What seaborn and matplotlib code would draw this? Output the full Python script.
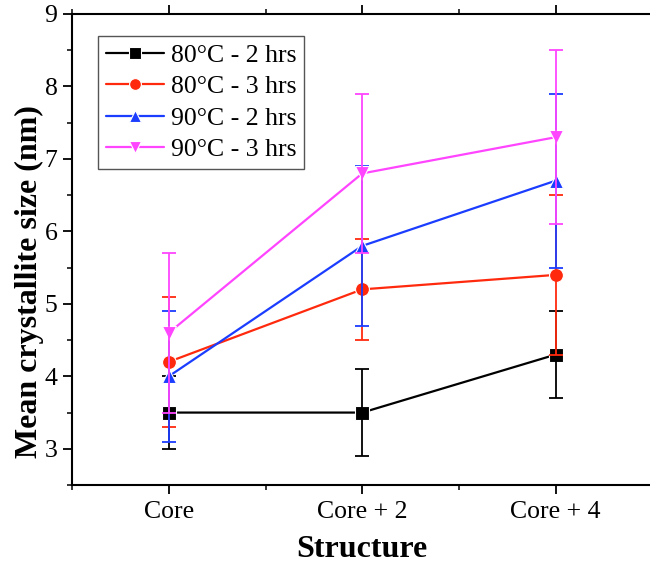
import numpy as np
import pandas as pd
import matplotlib
matplotlib.use("Agg")
import matplotlib.pyplot as plt
from matplotlib.ticker import MultipleLocator, FixedLocator
import seaborn as sns

# Structures along the x axis
structures = ["Core", "Core + 2", "Core + 4"]

# Mean crystallite size (nm) and its error for each synthesis condition
size_80_2h = [3.5, 3.5, 4.3]
err_80_2h = [0.5, 0.6, 0.6]
size_80_3h = [4.2, 5.2, 5.4]
err_80_3h = [0.9, 0.7, 1.1]
size_90_2h = [4.0, 5.8, 6.7]
err_90_2h = [0.9, 1.1, 1.2]
size_90_3h = [4.6, 6.8, 7.3]
err_90_3h = [1.1, 1.1, 1.2]

conditions = ["80°C - 2 hrs", "80°C - 3 hrs", "90°C - 2 hrs", "90°C - 3 hrs"]
colors = ["#000000", "#FF2A0E", "#1B3DFF", "#FF45FF"]
markers = ["s", "o", "^", "v"]

sizes = [size_80_2h, size_80_3h, size_90_2h, size_90_3h]
errors = [err_80_2h, err_80_3h, err_90_2h, err_90_3h]

rows = []
for cond, vals, errs in zip(conditions, sizes, errors):
    for pos, (s, v, e) in enumerate(zip(structures, vals, errs)):
        rows.append({"Structure": s, "pos": pos, "Condition": cond,
                     "Size": v, "Err": e})
df = pd.DataFrame(rows)

sns.set_style("ticks")
plt.rcParams["font.family"] = ["Liberation Serif", "DejaVu Serif"]
plt.rcParams["text.color"] = "black"
plt.rcParams["axes.labelcolor"] = "black"

fig = plt.figure(figsize=(6.5, 5.64), dpi=100)
ax = fig.add_axes([0.1108, 0.140, 0.893, 0.8352])

sns.lineplot(data=df, x="pos", y="Size", hue="Condition", style="Condition",
             hue_order=conditions, style_order=conditions,
             palette=dict(zip(conditions, colors)),
             markers=dict(zip(conditions, markers)), dashes=False,
             linewidth=1.6, markersize=10, markeredgewidth=0.8,
             ax=ax, legend="full")

for i, line in enumerate(ax.lines[:len(conditions)]):
    line.set_zorder(3 + i)

for i, cond in enumerate(conditions):
    sub = df[df["Condition"] == cond]
    ax.errorbar(sub["pos"], sub["Size"], yerr=sub["Err"], fmt="none",
                ecolor=colors[i], elinewidth=1.3, capsize=5, capthick=1.3,
                zorder=3.5 + i)

ax.set_xlim(-0.5, 2.5)
ax.set_ylim(2.5, 9)
ax.xaxis.set_major_locator(FixedLocator([0, 1, 2]))
ax.set_xticklabels(structures)
ax.xaxis.set_minor_locator(FixedLocator([-0.5, 0.5, 1.5, 2.5]))
ax.yaxis.set_major_locator(MultipleLocator(1))
ax.yaxis.set_minor_locator(MultipleLocator(0.5))

for side in ["left", "bottom", "top", "right"]:
    ax.spines[side].set_linewidth(1.5)
    ax.spines[side].set_color("black")

ax.tick_params(which="major", direction="out", length=6.5, width=1.3,
               labelsize=18.5, colors="black", top=True)
ax.tick_params(axis="x", which="major", pad=5)
ax.tick_params(axis="y", which="major", pad=4)
ax.tick_params(which="minor", direction="out", length=3.7, width=1.3,
               top=True)
ax.tick_params(axis="x", which="both", labeltop=False)

ax.set_xlabel("Structure", fontsize=23, fontweight="bold", labelpad=8.5,
              color="black")
ax.set_ylabel("Mean crystallite size (nm)", fontsize=23, fontweight="bold",
              color="black")
ax.yaxis.set_label_coords(-0.048, 0.433)

handles, labels = ax.get_legend_handles_labels()
leg = ax.legend(handles[:4], labels[:4], loc="upper left",
                bbox_to_anchor=(0.045, 0.953), borderaxespad=0,
                fontsize=18.5, frameon=True, fancybox=False, framealpha=1,
                edgecolor="#555555", handlelength=2.25, handletextpad=0.28,
                labelspacing=0.33, borderpad=0.3, markerscale=0.85)
leg.get_frame().set_linewidth(1.0)

fig.savefig("out.png", dpi=100)
